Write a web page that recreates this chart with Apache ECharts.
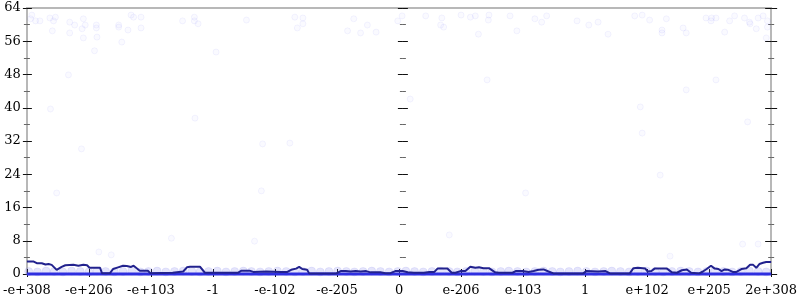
<!DOCTYPE html>
<html><head><meta charset="utf-8">
<script src="https://cdn.jsdelivr.net/npm/echarts@6/dist/echarts.min.js"></script>
<style>html,body{margin:0;padding:0;background:#fff}#c{width:800px;height:300px}</style>
</head><body><div id="c"></div>
<script>
const xTickLabels = ['-e+308','-e+206','-e+103','-1','-e-102','-e-205','0','e-206','e-103','1','e+102','e+205','2e+308'];
const yMin = 0, yMax = 64, yStep = 8;

// faint individual samples [x, y]
const samplePoints = [
[0.08,62.3],[0.06,61.4],[0.14,60.9],[0.21,60.9],[0.37,61.6],[0.43,60.9],[0.46,61.8],[0.41,58.5],
[0.69,60.6],[0.69,58.0],[0.77,59.9],[0.91,61.4],[0.89,59.0],[0.94,59.9],[0.91,56.8],[1.12,59.9],
[1.12,59.2],[1.09,53.7],[1.13,57.0],[0.67,47.9],[1.48,59.9],[1.48,59.4],[1.63,58.7],[1.53,55.8],
[1.68,62.3],[1.72,61.8],[1.84,61.8],[1.84,59.2],[2.51,60.9],[2.70,61.8],[2.70,60.9],[2.76,60.2],
[3.05,53.4],[3.54,61.1],[4.32,61.8],[4.45,61.6],[4.36,59.2],[4.45,60.2],[5.27,61.4],[5.17,58.5],
[5.38,58.0],[5.49,59.9],[5.63,58.2],[5.98,60.9],[6.05,62.1],[6.43,62.1],[6.69,61.6],[6.67,59.9],
[6.72,59.4],[7.00,62.3],[7.15,61.8],[7.23,62.1],[7.45,62.3],[7.44,61.1],[7.28,57.7],[7.79,62.1],
[8.19,61.4],[8.30,60.6],[8.38,62.1],[7.90,58.5],[8.87,60.9],[9.06,59.9],[9.21,60.6],[9.37,57.7],
[9.80,62.1],[9.92,62.3],[10.04,61.1],[10.31,61.4],[10.24,58.7],[10.24,58.0],[10.58,59.2],[10.63,58.0],
[10.95,61.6],[11.03,60.9],[11.04,61.6],[11.11,61.6],[11.33,60.9],[11.41,62.1],[11.57,61.6],[11.65,60.6],
[11.66,60.2],[11.76,59.0],[11.79,61.6],[11.87,62.1],[11.94,60.9],[11.94,59.4],[11.92,56.8],[11.25,58.2],
[7.42,46.7],[10.63,44.3],[11.11,46.7],[6.18,42.1],[0.38,39.7],[2.71,37.5],[0.88,30.1],[3.80,31.3],
[4.24,31.5],[0.48,19.5],[3.78,20.0],[9.89,40.2],[11.62,36.6],[9.92,33.9],[10.21,23.8],[8.04,19.5],
[2.33,8.6],[3.67,7.9],[1.16,5.3],[1.36,4.6],[6.81,9.4],[10.37,4.3],[11.54,7.2],[11.79,7.2]
];

// dense low samples forming the pale band just above zero [x, y]
const bandPoints = [
[0.03,0.6],[0.17,0.5],[0.31,0.7],[0.44,0.6],[0.58,0.5],[0.72,0.7],[0.86,0.6],[1.0,0.5],[1.13,0.7],
[1.27,0.6],[1.41,0.5],[1.55,0.6],[1.69,0.7],[1.83,0.5],[1.96,0.6],[2.1,0.7],[2.24,0.5],[2.38,0.6],
[2.52,0.7],[2.66,0.6],[2.79,0.5],[2.93,0.6],[3.07,0.7],[3.21,0.5],[3.35,0.6],[3.49,0.7],[3.62,0.6],
[3.76,0.5],[3.9,0.6],[4.04,0.7],[4.18,0.6],[4.32,0.5],[4.45,0.6],[4.59,0.7],[4.73,0.5],[4.87,0.6],
[5.01,0.7],[5.15,0.6],[5.28,0.5],[5.42,0.6],[5.56,0.7],[5.7,0.6],[5.84,0.5],[5.98,0.6],[6.11,0.7],
[6.25,0.6],[6.39,0.5],[6.53,0.6],[6.67,0.7],[6.81,0.6],[6.94,0.5],[7.08,0.6],[7.22,0.7],[7.36,0.6],
[7.5,0.5],[7.64,0.6],[7.77,0.7],[7.91,0.6],[8.05,0.5],[8.19,0.6],[8.33,0.7],[8.47,0.6],[8.6,0.5],
[8.74,0.6],[8.88,0.7],[9.02,0.6],[9.16,0.5],[9.3,0.6],[9.43,0.7],[9.57,0.6],[9.71,0.5],[9.85,0.6],
[9.99,0.7],[10.13,0.6],[10.26,0.5],[10.4,0.6],[10.54,0.7],[10.68,0.6],[10.82,0.5],[10.96,0.6],
[11.09,0.7],[11.23,0.6],[11.37,0.5],[11.51,0.6],[11.65,0.7],[11.79,0.6],[11.92,0.5]
];

// samples sitting on zero
const zeroLine = [[0,0],[12,0]];

// running mean line [x, y]
const meanLine = [
[0,3.0],[0.11,3.0],[0.16,2.6],[0.24,2.6],[0.30,2.3],[0.35,2.4],[0.40,2.2],[0.43,2.3],[0.48,1.0],[0.51,0.9],
[0.56,1.7],[0.62,2.1],[0.75,2.2],[0.83,2.0],[0.91,2.2],[0.97,2.1],[1.01,1.5],[1.18,1.5],[1.21,0.2],[1.34,0.2],
[1.39,1.2],[1.47,1.6],[1.55,2.0],[1.58,2.4],[1.61,1.9],[1.64,2.2],[1.68,1.7],[1.72,2.0],[1.77,1.4],[1.82,0.8],
[1.95,0.8],[1.99,0.2],[2.35,0.3],[2.52,0.6],[2.58,1.6],[2.63,1.75],[2.79,1.75],[2.87,0.3],[3.40,0.3],[3.46,0.8],
[3.59,0.8],[3.65,0.5],[3.86,0.6],[4.10,0.5],[4.20,0.5],[4.26,1.0],[4.34,1.3],[4.39,1.7],[4.44,1.2],[4.52,1.0],
[4.55,0.15],[4.99,0.15],[5.06,0.7],[5.14,0.7],[5.22,0.6],[5.30,0.7],[5.38,0.6],[5.47,0.7],[5.54,0.4],[5.70,0.4],
[5.78,0.2],[5.86,0.2],[5.94,0.7],[6.06,0.7],[6.14,0.4],[6.24,0.3],[6.40,0.3],[6.49,0.5],[6.57,0.5],[6.62,1.3],
[6.78,1.3],[6.85,0.3],[6.91,0.3],[6.99,0.7],[7.07,0.7],[7.15,1.75],[7.23,1.5],[7.29,1.6],[7.36,1.4],[7.45,1.4],
[7.55,0.4],[7.61,0.3],[7.83,0.3],[7.88,0.7],[7.99,0.7],[8.09,0.5],[8.17,0.7],[8.25,1.0],[8.33,1.1],[8.41,0.6],
[8.49,0.15],[8.97,0.15],[9.02,0.7],[9.21,0.6],[9.33,0.7],[9.40,0.15],[9.72,0.15],[9.78,1.4],[9.85,1.5],[9.97,1.3],
[10.01,0.6],[10.07,0.7],[10.12,1.3],[10.32,1.3],[10.40,0.4],[10.48,0.3],[10.56,0.9],[10.64,1.1],[10.71,0.3],[10.84,0.15],
[10.90,0.6],[10.96,1.2],[11.03,2.0],[11.09,1.3],[11.15,1.2],[11.20,0.7],[11.25,1.1],[11.31,1.0],[11.38,0.5],[11.44,0.5],
[11.52,1.2],[11.60,1.4],[11.66,2.2],[11.71,2.2],[11.76,1.5],[11.81,2.4],[11.87,2.7],[11.92,2.9],[12.00,2.9]
];

const FONT = 'DejaVu Serif';
function yAx(pos, offset, inside, len, minorLen, showLabel, showLine) {
  return {
    type: 'value', min: yMin, max: yMax, interval: yStep, position: pos, offset: offset,
    axisLine: { show: showLine, onZero: false, lineStyle: { color: '#b8b8b8', width: 2 } },
    axisTick: { show: true, inside: inside, length: len, lineStyle: { color: '#111', width: 1 } },
    minorTick: { show: true, splitNumber: 2, length: minorLen, lineStyle: { color: '#666', width: 1 } },
    axisLabel: { show: showLabel, fontFamily: FONT, fontSize: 13, color: '#000', margin: 6 },
    splitLine: { show: false }, minorSplitLine: { show: false }
  };
}

const chart = echarts.init(document.getElementById('c'), null, { renderer: 'canvas' });
chart.setOption({
  animation: false,
  backgroundColor: '#fff',
  grid: { left: 23, right: 25, top: 8, bottom: 26, containLabel: false },
  xAxis: [
    { type: 'value', min: 0, max: 12, interval: 1, position: 'bottom',
      axisLine: { show: true, onZero: false, lineStyle: { color: '#b8b8b8', width: 2 } },
      axisTick: { show: true, inside: false, length: 3, lineStyle: { color: '#111' } },
      axisLabel: { show: true, fontFamily: FONT, fontSize: 13, color: '#000', margin: 10,
        showMinLabel: true, showMaxLabel: true, hideOverlap: false,
        formatter: v => xTickLabels[Math.round(v)] },
      splitLine: { show: false } },
    { type: 'value', min: 0, max: 12, interval: 1, position: 'bottom',
      axisLine: { show: false, onZero: false },
      axisTick: { show: true, inside: true, length: 5, lineStyle: { color: '#111' } },
      axisLabel: { show: false }, splitLine: { show: false } },
    { type: 'value', min: 0, max: 12, interval: 1, position: 'top',
      axisLine: { show: true, onZero: false, lineStyle: { color: '#b8b8b8', width: 2 } },
      axisTick: { show: false }, axisLabel: { show: false }, splitLine: { show: false } }
  ],
  yAxis: [
    yAx('left', 0, false, 4, 3, true, true),
    yAx('left', 0, true, 5, 3, false, false),
    yAx('right', 0, false, 6, 3, false, true),
    yAx('right', 0, true, 6, 3, false, false),
    yAx('left', -376, false, 5, 3, false, false),
    yAx('left', -376, true, 5, 3, false, false)
  ],
  series: [
    { type: 'scatter', data: samplePoints, symbol: 'circle', symbolSize: 6, silent: true,
      itemStyle: { color: 'rgba(110,110,240,0.04)', borderColor: 'rgba(100,100,235,0.09)', borderWidth: 1 } },
    { type: 'scatter', data: bandPoints, symbol: 'circle', symbolSize: 8, silent: true,
      itemStyle: { color: 'rgba(110,110,235,0.22)', borderColor: 'rgba(110,110,235,0.15)', borderWidth: 1 } },
    { type: 'line', data: zeroLine, symbol: 'none', clip: false, silent: true,
      lineStyle: { color: '#2f2fe0', width: 3 } },
    { type: 'line', data: meanLine, symbol: 'none', clip: false, silent: true,
      lineStyle: { color: '#22228e', width: 2 } }
  ]
});
</script>
</body></html>
